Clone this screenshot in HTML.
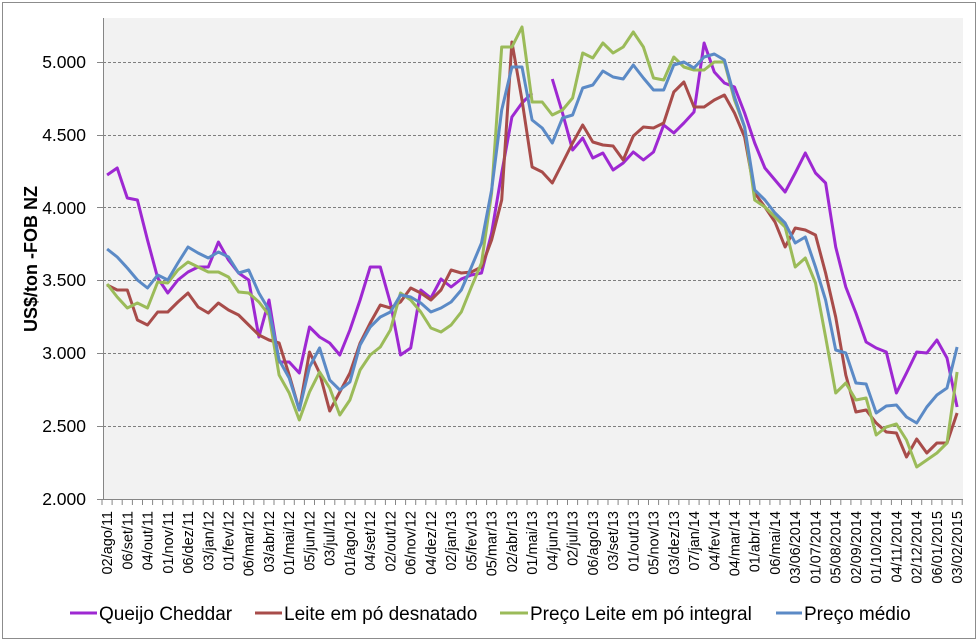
<!DOCTYPE html>
<html><head><meta charset="utf-8"><style>
html,body{margin:0;padding:0;background:#fff;width:980px;height:641px;overflow:hidden}
svg{display:block;font-family:"Liberation Sans",sans-serif}
</style></head><body>
<svg id="c" width="980" height="641" viewBox="0 0 980 641" xmlns="http://www.w3.org/2000/svg">
<rect x="2.5" y="2.5" width="973" height="636" fill="#fff" stroke="#8c8c8c" stroke-width="1"/>
<rect x="103" y="18" width="860" height="481" fill="#f2f2f2"/>
<g stroke="#7f7f7f" stroke-width="1" stroke-dasharray="3,2">
<line x1="103" x2="963" y1="62.5" y2="62.5"/>
<line x1="103" x2="963" y1="135.5" y2="135.5"/>
<line x1="103" x2="963" y1="207.5" y2="207.5"/>
<line x1="103" x2="963" y1="280.5" y2="280.5"/>
<line x1="103" x2="963" y1="353.5" y2="353.5"/>
<line x1="103" x2="963" y1="426.5" y2="426.5"/>
</g>
<g stroke="#868686" stroke-width="1">
<line x1="103.5" y1="18" x2="103.5" y2="499"/>
<line x1="97" y1="499.5" x2="963" y2="499.5"/>
<line x1="97" y1="62.5" x2="103" y2="62.5"/>
<line x1="97" y1="135.5" x2="103" y2="135.5"/>
<line x1="97" y1="207.5" x2="103" y2="207.5"/>
<line x1="97" y1="280.5" x2="103" y2="280.5"/>
<line x1="97" y1="353.5" x2="103" y2="353.5"/>
<line x1="97" y1="426.5" x2="103" y2="426.5"/>
</g>
<g id="ticks" stroke="#868686" stroke-width="1"></g>
<g font-size="17.5" fill="#000" text-anchor="end">
<text x="86" y="68">5.000</text>
<text x="86" y="141">4.500</text>
<text x="86" y="214">4.000</text>
<text x="86" y="286">3.500</text>
<text x="86" y="359">3.000</text>
<text x="86" y="432">2.500</text>
<text x="86" y="505">2.000</text>
</g>
<text transform="translate(37,259) rotate(-90)" text-anchor="middle" font-size="18" font-weight="bold">US$/ton -FOB NZ</text>
<g id="xl" font-size="14.5" fill="#000"></g>
<g id="series" fill="none" stroke-width="3" stroke-linejoin="round"></g>
<g font-size="19" fill="#000">
<line x1="70" y1="613" x2="97" y2="613" stroke="#9e28d2" stroke-width="3"/>
<text x="99" y="620">Queijo Cheddar</text>
<line x1="255" y1="613" x2="282" y2="613" stroke="#a84c4a" stroke-width="3"/>
<text x="284" y="620">Leite em pó desnatado</text>
<line x1="500" y1="613" x2="528" y2="613" stroke="#9bbb59" stroke-width="3"/>
<text x="530" y="620">Preço Leite em pó integral</text>
<line x1="776" y1="613" x2="802" y2="613" stroke="#5b8ac6" stroke-width="3"/>
<text x="804" y="620">Preço médio</text>
</g>
</svg>
<script>
var NS="http://www.w3.org/2000/svg";
var X0=107.06,S=10.12;
var P=[175,168,198,200,240,278,293,280,272,267,267,242,260,273,280,337,300,362,362,373,327,337,343,355,330,300,267,267,303,355,348,290,298,279,287,279,275,273,233,173,117,103,93,null,79,113,150,138,158,153,170,163,152,160,152,125,133,123,112,43,72,83,87,113,143,168,180,192,173,153,173,183,247,287,313,342,348,352,393,373,352,353,340,358,407];
var R=[285,290,290,320,325,312,312,302,293,307,313,303,310,315,325,335,340,343,375,410,352,373,411,392,373,343,323,305,308,302,288,293,300,290,270,273,272,267,240,200,42,100,167,172,183,163,143,125,142,145,146,160,136,127,128,123,92,82,107,107,100,95,113,137,193,207,222,247,228,230,235,273,317,375,412,410,423,432,433,457,439,453,443,443,413];
var G=[284,297,308,303,308,282,283,270,262,267,272,272,277,292,293,302,315,375,393,420,392,372,388,415,400,370,355,347,330,293,300,312,328,332,325,312,287,263,193,47,47,27,102,102,115,110,98,53,58,43,53,47,32,47,78,80,57,67,70,70,62,62,100,127,200,207,217,227,267,258,283,337,393,383,400,398,435,427,424,440,467,460,453,443,372];
var B=[249,257,268,280,288,275,280,263,247,253,258,252,257,273,270,293,310,360,378,410,367,348,380,390,382,345,327,317,312,295,297,303,312,308,302,290,267,243,190,110,67,67,120,128,143,118,115,88,85,71,77,79,65,78,90,90,65,62,68,57,54,60,97,127,190,200,213,223,243,237,267,300,350,353,383,384,413,406,405,417,423,407,395,388,347];
var sg=document.getElementById("series");
function draw(arr,col){
  var seg=[];
  function flush(){ if(seg.length>1){var p=document.createElementNS(NS,"polyline");p.setAttribute("points",seg.join(" "));p.setAttribute("stroke",col);sg.appendChild(p);} seg=[]; }
  for(var i=0;i<arr.length;i++){ if(arr[i]===null){flush();continue;} seg.push((X0+S*i).toFixed(1)+","+arr[i]); }
  flush();
}
draw(P,"#9e28d2");draw(R,"#a84c4a");draw(G,"#9bbb59");draw(B,"#5b8ac6");
var tk=document.getElementById("ticks");
for(var i=0;i<=85;i++){var x=(102+S*i).toFixed(1);var l=document.createElementNS(NS,"line");l.setAttribute("x1",x);l.setAttribute("x2",x);l.setAttribute("y1",499);l.setAttribute("y2",505);tk.appendChild(l);}
var labs=["02/ago/11","06/set/11","04/out/11","01/nov/11","06/dez/11","03/jan/12","01/fev/12","06/mar/12","03/abr/12","01/mai/12","05/jun/12","03/jul/12","01/ago/12","04/set/12","02/out/12","06/nov/12","04/dez/12","02/jan/13","05/fev/13","05/mar/13","02/abr/13","01/mai/13","04/jun/13","02/jul/13","06/ago/13","03/set/13","01/out/13","05/nov/13","03/dez/13","07/jan/14","04/fev/14","04/mar/14","01/abr/14","06/mai/14","03/06/2014","01/07/2014","05/08/2014","02/09/2014","01/10/2014","04/11/2014","02/12/2014","06/01/2015","03/02/2015"];
var xl=document.getElementById("xl");
for(var j=0;j<labs.length;j++){var x=X0+S*2*j+5;var t=document.createElementNS(NS,"text");t.setAttribute("transform","translate("+x.toFixed(1)+",511) rotate(-90)");t.setAttribute("text-anchor","end");t.textContent=labs[j];xl.appendChild(t);}
</script>
</body></html>
